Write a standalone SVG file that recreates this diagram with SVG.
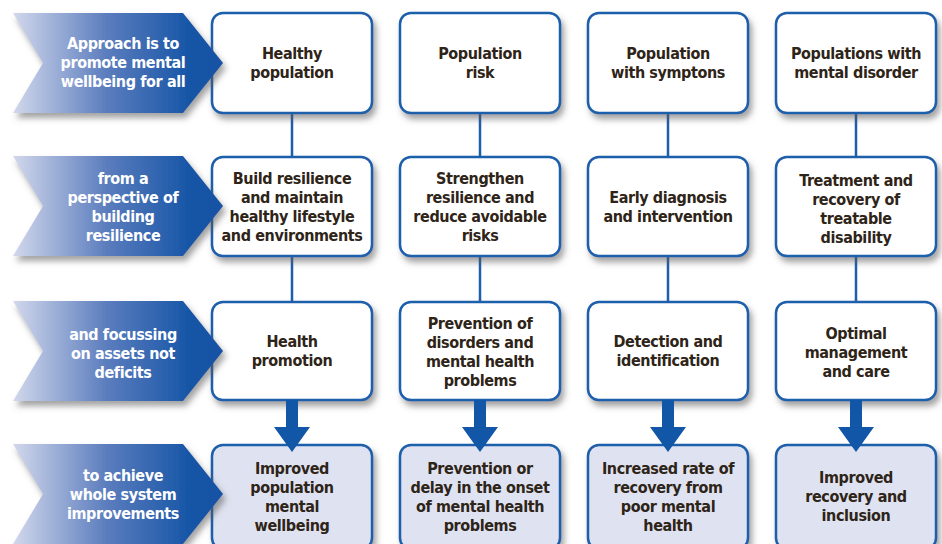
<svg xmlns="http://www.w3.org/2000/svg" width="942" height="544" viewBox="0 0 942 544">
<defs>
<linearGradient id="chev" x1="0" y1="0" x2="1" y2="0">
<stop offset="0" stop-color="#d2d8ec"/>
<stop offset="0.45" stop-color="#5a7cbd"/>
<stop offset="0.85" stop-color="#1555a6"/>
<stop offset="1" stop-color="#1252a4"/>
</linearGradient>
<filter id="sh" x="-10%" y="-10%" width="130%" height="140%">
<feDropShadow dx="3" dy="5" stdDeviation="3" flood-color="#555" flood-opacity="0.55"/>
</filter>
<path id="chevShape" d="M13,0 L183,0 L223,50 L183,100 L13,100 L43,50 Z"/>
</defs>
<style>
.box{fill:#fff;stroke:#1f5eab;stroke-width:2.5;filter:url(#sh)}
.res{fill:#dfe3f1;stroke:#1f5eab;stroke-width:2.5;filter:url(#sh)}
.chev{fill:url(#chev);filter:url(#sh)}
.t{font-family:"Liberation Sans Narrow","DejaVu Sans Condensed","Liberation Sans",sans-serif;font-weight:bold;font-size:16px;letter-spacing:-0.4px;text-anchor:middle;fill:#2e2418}
.w{font-family:"Liberation Sans Narrow","DejaVu Sans Condensed","Liberation Sans",sans-serif;font-weight:bold;font-size:16px;letter-spacing:-0.4px;text-anchor:middle;fill:#ffffff}
.ln{stroke:#1f5eab;stroke-width:2.5;fill:none}
.arr{fill:#1256a8}
</style>

<g id="connectors">
<path class="ln" d="M292,113 V157 M292,256 V302 M480,113 V157 M480,256 V302 M668,113 V157 M668,256 V302 M856,113 V157 M856,256 V302"/>
</g>

<!-- Row 1 -->
<g id="n-r1c1"><rect class="box" x="212" y="13" width="160" height="100" rx="11"/><text class="t" x="292" y="59">Healthy</text><text class="t" x="292" y="78">population</text></g>
<g id="n-r1c2"><rect class="box" x="400" y="13" width="160" height="100" rx="11"/><text class="t" x="480" y="59">Population</text><text class="t" x="480" y="78">risk</text></g>
<g id="n-r1c3"><rect class="box" x="588" y="13" width="160" height="100" rx="11"/><text class="t" x="668" y="59">Population</text><text class="t" x="668" y="78">with symptons</text></g>
<g id="n-r1c4"><rect class="box" x="776" y="13" width="160" height="100" rx="11"/><text class="t" x="856" y="59">Populations with</text><text class="t" x="856" y="78">mental disorder</text></g>

<!-- Row 2 -->
<g id="n-r2c1"><rect class="box" x="212" y="157" width="160" height="99" rx="11"/><text class="t" x="292" y="184">Build resilience</text><text class="t" x="292" y="203">and maintain</text><text class="t" x="292" y="222">healthy lifestyle</text><text class="t" x="292" y="241">and environments</text></g>
<g id="n-r2c2"><rect class="box" x="400" y="157" width="160" height="99" rx="11"/><text class="t" x="480" y="184">Strengthen</text><text class="t" x="480" y="203">resilience and</text><text class="t" x="480" y="222">reduce avoidable</text><text class="t" x="480" y="241">risks</text></g>
<g id="n-r2c3"><rect class="box" x="588" y="157" width="160" height="99" rx="11"/><text class="t" x="668" y="203">Early diagnosis</text><text class="t" x="668" y="222">and intervention</text></g>
<g id="n-r2c4"><rect class="box" x="776" y="157" width="160" height="99" rx="11"/><text class="t" x="856" y="186">Treatment and</text><text class="t" x="856" y="205">recovery of</text><text class="t" x="856" y="224">treatable</text><text class="t" x="856" y="243">disability</text></g>

<!-- Row 3 -->
<g id="n-r3c1"><rect class="box" x="212" y="302" width="160" height="98" rx="11"/><text class="t" x="292" y="347">Health</text><text class="t" x="292" y="366">promotion</text></g>
<g id="n-r3c2"><rect class="box" x="400" y="302" width="160" height="98" rx="11"/><text class="t" x="480" y="329">Prevention of</text><text class="t" x="480" y="348">disorders and</text><text class="t" x="480" y="367">mental health</text><text class="t" x="480" y="386">problems</text></g>
<g id="n-r3c3"><rect class="box" x="588" y="302" width="160" height="98" rx="11"/><text class="t" x="668" y="347">Detection and</text><text class="t" x="668" y="366">identification</text></g>
<g id="n-r3c4"><rect class="box" x="776" y="302" width="160" height="98" rx="11"/><text class="t" x="856" y="339">Optimal</text><text class="t" x="856" y="358">management</text><text class="t" x="856" y="377">and care</text></g>

<!-- Row 4 -->
<g id="n-r4c1"><rect class="res" x="212" y="445" width="160" height="104" rx="11"/><text class="t" x="292" y="474">Improved</text><text class="t" x="292" y="493">population</text><text class="t" x="292" y="512">mental</text><text class="t" x="292" y="531">wellbeing</text></g>
<g id="n-r4c2"><rect class="res" x="400" y="445" width="160" height="104" rx="11"/><text class="t" x="480" y="474">Prevention or</text><text class="t" x="480" y="493">delay in the onset</text><text class="t" x="480" y="512">of mental health</text><text class="t" x="480" y="531">problems</text></g>
<g id="n-r4c3"><rect class="res" x="588" y="445" width="160" height="104" rx="11"/><text class="t" x="668" y="474">Increased rate of</text><text class="t" x="668" y="493">recovery from</text><text class="t" x="668" y="512">poor mental</text><text class="t" x="668" y="531">health</text></g>
<g id="n-r4c4"><rect class="res" x="776" y="445" width="160" height="104" rx="11"/><text class="t" x="856" y="483">Improved</text><text class="t" x="856" y="502">recovery and</text><text class="t" x="856" y="521">inclusion</text></g>

<!-- thick arrows -->
<g id="arrows">
<path class="arr" d="M286,400 H298 V427 H310 L292,452 L274,427 H286 Z"/>
<path class="arr" d="M474,400 H486 V427 H498 L480,452 L462,427 H474 Z"/>
<path class="arr" d="M662,400 H674 V427 H686 L668,452 L650,427 H662 Z"/>
<path class="arr" d="M850,400 H862 V427 H874 L856,452 L838,427 H850 Z"/>
</g>

<!-- Chevrons -->
<g id="c1"><use href="#chevShape" class="chev" transform="translate(0,13)"/><text class="w" x="123" y="49">Approach is to</text><text class="w" x="123" y="68">promote mental</text><text class="w" x="123" y="87">wellbeing for all</text></g>
<g id="c2"><use href="#chevShape" class="chev" transform="translate(0,156)"/><text class="w" x="123" y="184">from a</text><text class="w" x="123" y="203">perspective of</text><text class="w" x="123" y="222">building</text><text class="w" x="123" y="241">resilience</text></g>
<g id="c3"><use href="#chevShape" class="chev" transform="translate(0,301)"/><text class="w" x="123" y="340">and focussing</text><text class="w" x="123" y="359">on assets not</text><text class="w" x="123" y="378">deficits</text></g>
<g id="c4"><use href="#chevShape" class="chev" transform="translate(0,444)"/><text class="w" x="123" y="481">to achieve</text><text class="w" x="123" y="500">whole system</text><text class="w" x="123" y="519">improvements</text></g>
</svg>
